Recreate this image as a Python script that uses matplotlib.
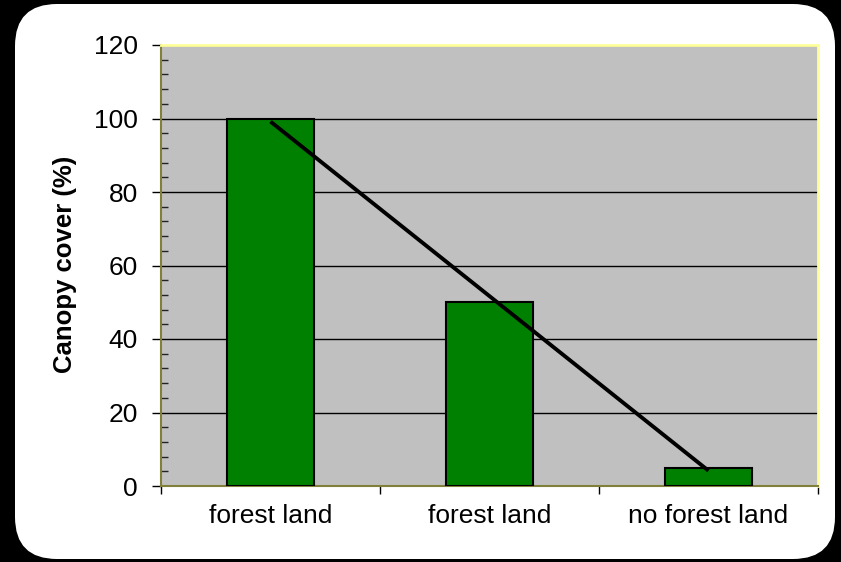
import numpy as np
import matplotlib
matplotlib.use("Agg")
import matplotlib.pyplot as plt
from matplotlib.patches import FancyBboxPatch
from matplotlib.ticker import MultipleLocator, FixedLocator

plt.rcParams['font.family'] = ['Liberation Sans', 'DejaVu Sans']

categories = ["forest land", "forest land", "no forest land"]
canopy_cover = [100, 50, 5]
y_ticks = [0, 20, 40, 60, 80, 100, 120]
y_label = "Canopy cover (%)"

W, H = 841, 562
fig = plt.figure(figsize=(W / 100, H / 100), dpi=100)
fig.patch.set_facecolor('black')

# white rounded panel
panel = FancyBboxPatch((15 / W, (H - 559) / H), 820 / W, 555 / H,
                       boxstyle="round,pad=0,rounding_size=0.05",
                       transform=fig.transFigure, facecolor='white',
                       edgecolor='none', mutation_aspect=W / H, zorder=-10)
fig.patches.append(panel)

ax = fig.add_axes([161 / W, (H - 486) / H, 657 / W, 441 / H])
ax.set_zorder(1)
ax.set_facecolor('#C0C0C0')

x = np.arange(len(categories))
ax.bar(x, canopy_cover, width=0.4, color='#008000', edgecolor='black',
       linewidth=1.5, zorder=3)

# linear trendline
coef = np.polyfit(x, canopy_cover, 1)
ax.plot([x[0], x[-1]], np.polyval(coef, [x[0], x[-1]]), color='black',
        linewidth=2.8, zorder=4, solid_capstyle='butt')

ax.set_xlim(-0.5, len(categories) - 0.5)
ax.set_ylim(0, 120)

# x ticks at boundaries, labels at centers
ax.xaxis.set_major_locator(FixedLocator(np.arange(-0.5, len(categories), 1.0)))
ax.xaxis.set_minor_locator(FixedLocator(x))
ax.set_xticklabels([], minor=False)
ax.set_xticklabels(categories, minor=True, fontsize=19)
ax.tick_params(axis='x', which='major', direction='out', length=6, width=1, color='black')
ax.tick_params(axis='x', which='minor', length=0, pad=13)

ax.set_yticks(y_ticks)
ax.yaxis.set_minor_locator(MultipleLocator(4))
ax.tick_params(axis='y', which='major', direction='out', length=6.5, width=1,
               color='black', labelsize=19, pad=10)
ax.tick_params(axis='y', which='minor', direction='in', length=5, width=1, color='#222222')

ax.yaxis.grid(True, which='major', color='black', linewidth=1, zorder=1)
ax.set_axisbelow(True)

for s in ['left', 'bottom']:
    ax.spines[s].set_color('#80803a')
    ax.spines[s].set_linewidth(1.5)
for s in ['top', 'right']:
    ax.spines[s].set_color('#FFFF99')
    ax.spines[s].set_linewidth(2)

fig.text(65 / W, 1 - 264 / H, y_label, rotation=90, ha='center', va='center',
         fontsize=18.5, fontweight='bold')

fig.savefig('out.png', dpi=100, facecolor=fig.get_facecolor())
